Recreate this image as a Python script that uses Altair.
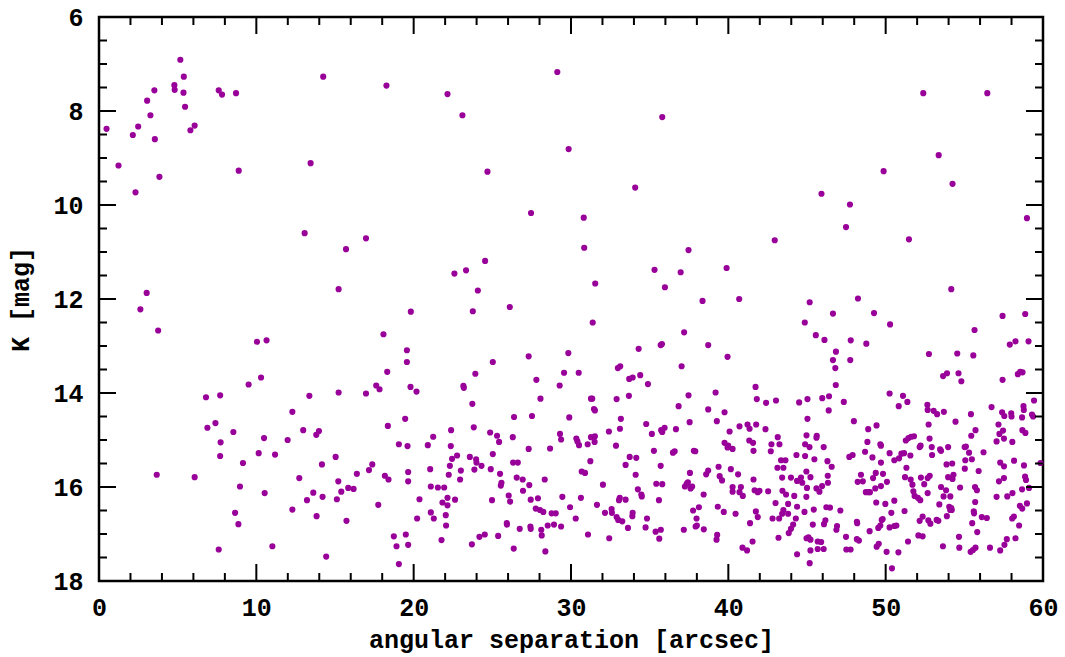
import altair as alt
import pandas as pd

# angular separation [arcsec] and K [mag]
sep = [5.17,5.39,4.79,4.81,5.37,3.52,3.06,5.47,3.27,2.49,0.48,2.15,3.55,6.08,5.81,7.61,7.82,8.71,14.25,1.24,3.84,2.32,8.88,13.45,13.07,3.03,2.63,15.23,
18.27,22.15,23.10,29.13,29.85,24.69,27.46,16.97,15.70,24.54,23.33,22.59,24.08,26.11,
35.80,34.08,30.81,30.84,42.95,37.47,35.31,36.97,39.89,31.54,35.97,38.36,40.69,
52.39,56.46,53.37,49.87,54.25,45.92,47.73,47.48,51.48,58.98,54.17,48.24,45.17,
3.76,10.04,10.65,10.30,9.51,6.80,7.70,13.37,15.23,12.29,7.40,6.89,8.54,12.98,13.98,13.81,10.49,11.99,7.73,10.15,11.19,7.70,15.04,9.15,14.17,3.67,6.08,12.73,15.21,8.96,13.62,10.53,14.21,13.22,15.12,12.29,8.65,13.83,8.86,11.02,7.61,14.44,
19.82,23.76,18.08,19.57,19.57,18.32,25.03,23.92,27.31,29.83,29.56,27.80,29.28,16.97,17.62,17.83,19.80,20.18,23.16,23.19,28.06,23.73,26.38,27.52,29.89,19.46,18.36,23.82,22.38,24.86,25.30,21.24,26.30,29.30,29.37,19.06,19.61,20.90,22.36,25.43,27.31,28.67,17.37,17.16,16.39,15.40,15.84,16.18,15.73,17.75,18.17,18.40,19.65,19.65,20.37,20.22,18.74,18.91,19.50,19.65,19.06,21.05,21.09,21.54,21.94,22.23,22.30,22.44,22.76,23.00,22.95,22.15,21.83,22.15,22.63,21.09,21.28,22.04,22.06,21.77,23.57,23.97,23.99,24.31,23.86,25.03,24.90,25.49,25.58,25.54,24.98,26.32,26.62,26.55,26.93,27.35,26.95,28.33,26.04,26.13,27.44,27.90,27.76,28.03,28.24,28.77,29.03,29.45,29.94,25.92,25.93,26.74,27.42,27.44,28.11,28.14,28.52,28.92,29.37,25.37,24.52,24.18,23.70,26.36,28.37,
31.38,37.19,44.86,34.30,35.70,35.78,38.72,39.95,30.49,32.98,33.13,37.03,33.70,33.92,34.40,34.89,31.27,31.35,32.90,33.68,37.47,39.19,41.73,41.81,42.40,43.03,44.50,45.03,36.84,38.72,31.46,31.52,33.17,33.11,32.41,34.78,37.54,39.27,39.76,35.14,35.73,35.95,35.80,36.67,30.34,30.41,30.51,31.06,31.27,31.52,31.50,32.86,35.27,36.48,36.59,37.81,37.90,39.76,39.99,39.95,40.27,40.71,41.22,41.35,41.77,42.36,40.08,41.33,41.57,41.60,42.74,43.25,43.14,42.70,31.23,30.68,30.89,33.73,34.15,33.47,34.11,35.70,32.03,30.63,30.30,31.65,32.16,32.58,32.60,32.90,33.00,33.26,33.62,33.05,33.10,33.47,33.92,33.90,34.25,34.47,34.50,34.83,34.74,35.42,35.80,35.59,35.38,35.71,35.61,31.08,32.43,37.17,37.35,37.43,37.56,37.24,37.60,37.70,38.43,37.76,38.13,37.98,37.92,38.00,38.44,38.59,38.72,39.38,39.45,39.60,40.16,40.62,40.27,40.27,40.71,40.80,40.92,39.33,39.71,40.46,39.29,39.25,41.60,41.67,41.87,41.98,42.53,41.75,41.87,41.38,41.54,40.90,41.19,43.00,42.81,43.23,43.42,43.50,43.80,43.80,44.37,44.29,43.19,43.84,43.98,44.12,44.37,43.12,43.50,43.35,43.63,43.42,43.98,44.33,44.62,44.37,44.70,43.44,43.67,44.19,44.88,44.97,45.03,44.84,44.97,45.00,
46.65,49.26,50.28,57.43,58.87,55.65,45.56,46.11,47.78,48.77,57.89,58.25,59.08,46.84,46.65,46.80,47.75,46.83,52.75,54.55,55.57,53.65,53.90,54.63,54.81,57.43,58.40,58.55,58.70,45.97,46.40,47.34,46.38,47.98,50.25,50.83,51.10,51.38,48.89,49.42,45.62,45.60,45.16,46.06,44.88,45.47,46.30,46.57,44.96,45.22,45.60,45.79,45.96,46.33,46.32,44.96,45.43,46.23,46.46,47.12,46.17,46.08,45.37,46.91,46.87,45.09,45.22,45.22,45.17,45.68,45.90,45.68,46.06,47.48,47.50,47.77,48.17,48.30,48.17,48.19,48.98,49.43,49.56,50.06,49.53,49.66,49.75,49.81,50.25,50.36,49.98,49.40,48.74,48.90,49.00,49.34,48.22,48.43,48.55,47.69,47.90,48.69,48.84,49.16,49.37,49.20,49.70,49.66,49.70,49.83,49.70,50.08,50.25,50.55,50.85,51.00,51.17,51.28,51.45,51.62,51.80,51.57,51.32,51.23,51.59,51.70,51.76,51.84,52.05,52.20,50.55,51.20,50.68,50.55,50.81,50.40,51.42,52.08,52.35,52.16,52.35,52.71,52.84,52.24,52.45,52.67,52.67,52.80,52.16,52.22,52.95,52.93,52.79,52.73,52.67,52.65,53.05,53.27,53.70,53.46,53.52,53.97,53.87,54.23,53.97,54.31,54.25,54.73,53.52,53.84,53.68,54.11,54.04,54.17,54.10,54.20,53.41,53.24,53.35,53.89,53.64,54.66,54.68,54.44,55.02,55.10,55.30,55.06,55.03,55.48,55.44,55.71,55.42,56.22,55.91,55.68,55.80,55.69,55.60,55.62,56.11,56.43,55.50,55.82,55.40,55.55,55.71,56.73,57.17,57.40,57.46,57.23,57.05,57.52,57.54,57.98,58.00,58.05,58.76,58.78,58.67,58.69,58.88,59.30,59.43,59.37,57.28,57.52,57.52,57.20,58.16,58.79,58.86,58.92,59.84,58.67,59.11,58.06,57.05,57.73,58.98,58.53,58.68,58.04,58.15,58.48,57.70,57.55,57.28,58.25,56.63]

kmag = [6.91,7.27,7.45,7.55,7.61,7.56,7.78,7.91,8.09,8.33,8.38,8.51,8.60,8.31,8.41,7.56,7.65,7.62,7.27,9.16,9.40,9.73,9.27,9.11,10.60,11.87,12.22,11.79,
7.46,7.64,8.09,7.17,8.81,9.29,10.17,10.71,10.94,11.19,11.39,11.46,11.82,12.17,
8.13,9.63,10.27,10.91,10.75,10.96,11.38,11.43,11.34,11.67,11.75,12.04,12.00,
7.62,7.62,8.94,9.28,9.55,9.76,9.99,10.47,10.73,10.28,11.79,11.99,12.07,
12.67,12.91,12.88,13.67,13.82,14.09,14.05,14.06,13.99,14.40,14.64,14.74,14.83,14.79,14.81,14.89,14.96,15.00,15.05,15.28,15.31,15.34,15.36,15.49,15.52,15.74,15.79,15.81,15.88,15.99,16.12,16.13,16.21,16.28,16.26,16.48,16.55,16.62,16.79,17.26,17.33,17.48,
12.27,12.26,12.75,13.09,13.34,13.55,13.34,13.59,13.22,13.15,13.57,13.72,13.84,14.01,13.84,13.92,13.87,13.97,13.85,13.89,14.12,14.23,14.51,14.49,14.52,14.55,14.70,14.73,14.79,14.84,14.91,14.93,14.94,14.87,14.99,15.09,15.13,15.11,15.13,15.04,15.19,15.18,15.52,15.64,15.72,16.10,16.02,16.04,16.72,16.38,15.76,15.84,15.68,15.88,16.26,16.67,17.05,17.26,17.01,17.23,17.64,15.62,15.99,16.01,16.01,15.74,15.55,15.40,15.33,15.65,15.84,16.23,16.33,16.39,16.27,16.54,16.67,16.60,16.82,17.13,15.36,15.41,15.48,15.55,15.63,15.30,15.62,15.72,15.91,15.97,16.28,15.48,15.48,15.80,15.84,15.96,16.08,15.84,16.18,16.31,16.27,16.24,16.46,16.49,16.53,16.56,16.56,16.21,16.43,16.77,16.80,16.89,16.84,16.89,16.91,17.03,16.82,16.80,16.84,17.04,17.01,17.06,17.22,17.31,17.37,
12.50,12.71,12.50,13.06,12.98,12.96,12.98,13.23,13.57,13.47,13.43,13.43,13.70,13.67,13.62,13.81,14.12,14.12,14.13,14.06,14.05,13.99,13.87,14.13,14.21,14.16,14.20,14.13,14.28,14.35,14.34,14.37,14.55,14.76,14.82,14.66,14.62,14.60,14.41,14.87,14.79,14.74,14.83,14.77,14.97,15.03,15.11,15.09,14.94,14.92,15.04,15.12,15.23,15.27,15.24,15.23,15.24,15.06,15.12,15.16,15.19,14.71,14.67,14.76,14.67,14.77,14.82,15.01,15.06,15.23,15.09,15.09,14.94,15.24,15.45,15.67,15.70,15.36,15.38,15.53,15.74,15.55,15.95,16.23,16.67,16.38,16.55,16.47,16.55,16.64,16.70,16.73,16.87,16.28,16.23,16.27,16.55,16.62,16.05,16.16,16.20,16.67,16.86,15.93,15.94,16.28,16.95,16.91,17.10,17.01,17.09,16.91,15.93,15.90,15.70,15.99,16.03,15.99,16.16,16.50,16.43,16.67,16.84,16.82,16.90,15.73,15.65,15.57,15.77,15.86,15.62,15.73,16.00,16.10,16.11,16.00,16.19,16.42,16.53,16.57,17.02,17.12,15.84,16.07,16.11,16.08,16.09,16.52,16.64,16.77,17.16,17.29,17.35,16.34,16.67,16.67,16.57,16.49,16.57,16.36,16.42,16.67,17.08,16.98,16.89,16.80,17.43,15.59,15.59,15.43,15.43,15.80,15.80,15.32,15.80,15.87,15.91,16.08,16.16,16.19,15.09,14.90,14.55,16.53,17.09,16.02,
12.31,12.30,12.54,12.36,12.32,12.66,12.77,12.87,12.88,12.95,12.97,12.90,12.90,13.12,13.30,13.47,13.30,13.83,13.17,13.16,13.20,13.64,13.58,13.58,13.75,13.72,13.60,13.55,13.56,14.11,14.07,14.19,14.37,14.60,14.01,14.28,14.06,14.19,14.77,14.69,14.91,14.95,15.15,15.15,15.34,15.41,15.45,15.57,15.67,15.79,16.03,16.10,15.98,15.91,15.76,16.21,16.48,16.43,16.44,16.50,16.71,16.79,16.80,16.83,16.91,17.07,17.12,17.35,17.62,17.16,17.17,17.32,17.32,17.06,17.33,17.33,17.11,17.14,16.74,16.77,16.94,17.27,17.21,17.38,16.87,16.82,16.70,16.68,16.86,16.55,16.36,16.33,16.11,16.11,16.11,16.03,15.89,15.74,15.88,15.36,15.32,15.25,15.04,15.37,15.70,15.81,15.48,15.09,15.12,15.72,15.98,15.89,15.28,15.43,15.39,15.29,15.28,15.01,14.96,14.93,14.92,15.33,15.59,15.79,15.84,15.95,16.09,16.19,16.23,16.28,16.29,16.51,16.82,16.83,17.39,17.73,17.16,17.03,17.05,16.72,16.63,16.71,16.78,15.80,15.94,16.13,15.81,15.76,15.15,15.12,15.32,15.15,14.97,14.67,14.36,14.25,14.38,14.45,14.40,15.20,15.23,15.15,15.52,15.50,15.79,15.74,15.83,16.01,16.00,16.07,16.20,16.20,16.42,16.45,16.49,16.49,16.37,16.70,16.72,16.62,17.26,17.06,17.29,14.61,15.15,15.14,15.27,15.43,15.61,15.41,14.91,14.79,14.45,15.26,15.66,16.00,16.07,16.32,16.52,16.56,16.64,16.66,16.77,16.96,17.38,17.34,17.29,14.30,14.67,14.41,14.80,14.87,15.03,14.97,14.49,14.43,14.50,15.04,14.28,14.36,14.52,14.79,14.85,14.46,14.16,14.50,15.48,15.56,15.81,15.88,15.44,15.54,15.78,15.85,15.49,16.05,16.02,16.13,16.21,16.20,16.35,16.40,16.46,16.67,16.63,16.82,17.11,17.23,17.35,17.09,17.29]

x_major = [0, 10, 20, 30, 40, 50, 60]
x_minor = [2, 4, 6, 8, 12, 14, 16, 18, 22, 24, 26, 28, 32, 34, 36, 38, 42, 44, 46, 48, 52, 54, 56, 58]
y_major = [6, 8, 10, 12, 14, 16, 18]
y_minor = [6.5, 7, 7.5, 8.5, 9, 9.5, 10.5, 11, 11.5, 12.5, 13, 13.5, 14.5, 15, 15.5, 16.5, 17, 17.5]

W, H = 944, 564
FONT = "Liberation Mono"
XT = "angular separation [arcsec]"
YT = "K [mag]"

xs = alt.Scale(domain=[0, 60], nice=False, zero=False)
ys = alt.Scale(domain=[6, 18], reverse=True, nice=False, zero=False)

df = pd.DataFrame({"sep": sep, "k": kmag})

points = alt.Chart(df).mark_circle(size=38, color="#990099", opacity=1).encode(
    x=alt.X("sep:Q", scale=xs, title=XT,
            axis=alt.Axis(values=x_major, ticks=False, domain=False, grid=False,
                          labelFont=FONT, labelFontSize=25, labelFontWeight="bold",
                          labelColor="black", labelPadding=14, labelFlush=False,
                          titleFont=FONT, titleFontSize=25, titleFontWeight="bold",
                          titleColor="black", titlePadding=7)),
    y=alt.Y("k:Q", scale=ys, title=YT,
            axis=alt.Axis(values=y_major, ticks=False, domain=False, grid=False,
                          labelFont=FONT, labelFontSize=25, labelFontWeight="bold",
                          labelColor="black", labelPadding=16, labelFlush=False,
                          titleFont=FONT, titleFontSize=25, titleFontWeight="bold",
                          titleColor="black", titlePadding=19)),
)


def xticks(vals, length):
    d = pd.DataFrame({"sep": vals})
    base = alt.Chart(d).mark_rule(color="black", strokeWidth=2)
    top = base.encode(x=alt.X("sep:Q", scale=xs, title=XT), y=alt.value(0), y2=alt.value(length))
    bot = base.encode(x=alt.X("sep:Q", scale=xs, title=XT), y=alt.value(H), y2=alt.value(H - length))
    return [top, bot]


def yticks(vals, length):
    d = pd.DataFrame({"k": vals})
    base = alt.Chart(d).mark_rule(color="black", strokeWidth=2)
    left = base.encode(y=alt.Y("k:Q", scale=ys, title=YT), x=alt.value(0), x2=alt.value(length))
    right = base.encode(y=alt.Y("k:Q", scale=ys, title=YT), x=alt.value(W), x2=alt.value(W - length))
    return [left, right]


layers = [points] + xticks(x_major, 17) + xticks(x_minor, 8) + yticks(y_major, 17) + yticks(y_minor, 8)

chart = alt.layer(*layers).properties(
    width=W, height=H,
    autosize=alt.AutoSizeParams(type="none"),
    padding={"left": 99, "top": 17, "right": 22, "bottom": 76},
    background="white",
).configure_view(stroke="black", strokeWidth=2.5)

chart.save("out.html", embed_options={"renderer": "svg", "actions": False})
